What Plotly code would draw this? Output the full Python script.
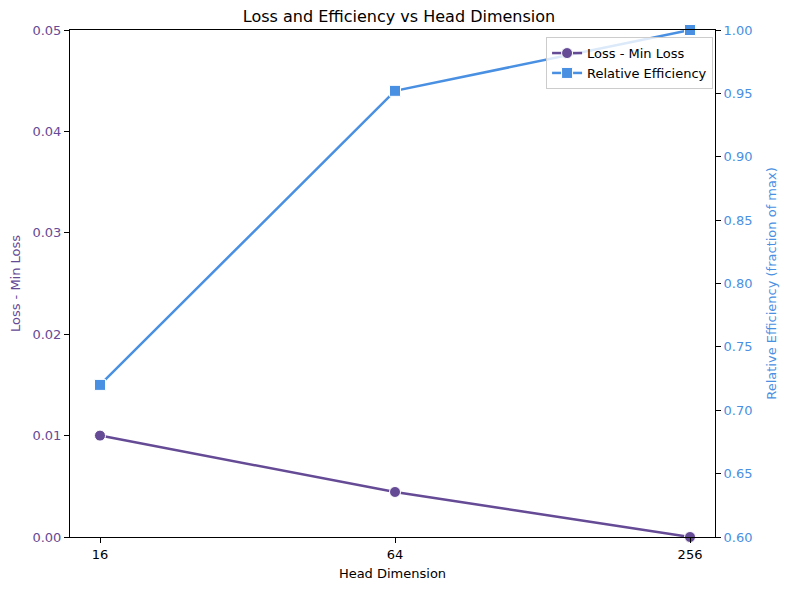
import plotly.graph_objects as go

head_dims = [16, 64, 256]
loss_minus_min = [0.0100, 0.00444, 0.0]
rel_efficiency = [0.720, 0.952, 1.000]

purple = "#654a96"
blue = "#4a90e2"
font = "DejaVu Sans"

W, H = 782, 582

fig = go.Figure()
fig.add_trace(go.Scatter(
    x=head_dims, y=loss_minus_min, name="Loss - Min Loss", mode="lines+markers",
    line=dict(color=purple, width=2.5),
    marker=dict(symbol="circle", size=11, color=purple, line=dict(color="white", width=1)),
    yaxis="y", cliponaxis=False,
))
fig.add_trace(go.Scatter(
    x=head_dims, y=rel_efficiency, name="Relative Efficiency", mode="lines+markers",
    line=dict(color=blue, width=2.5),
    marker=dict(symbol="square", size=11, color=blue, line=dict(color="white", width=1)),
    yaxis="y2", cliponaxis=False,
))

fig.update_layout(
    width=W, height=H,
    margin=dict(l=62, r=75, t=22, b=53),
    paper_bgcolor="white", plot_bgcolor="white",
    font=dict(family=font, size=13, color="black"),
    title=dict(text="Loss and Efficiency vs Head Dimension", x=0.5, xanchor="center",
               y=1 - 8 / H, yanchor="middle", font=dict(size=16, color="black")),
    xaxis=dict(
        type="log", range=[1.1429, 2.4592],
        tickvals=head_dims, ticktext=[str(v) for v in head_dims],
        ticks="outside", ticklen=5, tickcolor="black",
        showline=True, linecolor="black", linewidth=1, mirror=True,
        showgrid=False, zeroline=False, automargin=False,
        title=dict(text="Head Dimension", font=dict(size=13), standoff=8),
        tickfont=dict(size=13),
    ),
    yaxis=dict(
        range=[0, 0.05], tickvals=[0, 0.01, 0.02, 0.03, 0.04, 0.05], tickformat=".2f",
        ticks="outside", ticklen=5, tickcolor="black",
        showline=True, linecolor="black", linewidth=1,
        showgrid=False, zeroline=False, automargin=False,
        tickfont=dict(size=13, color=purple),
        title=dict(text="Loss - Min Loss", font=dict(size=13, color=purple), standoff=8),
    ),
    yaxis2=dict(
        range=[0.6, 1.0], tickvals=[0.6, 0.65, 0.7, 0.75, 0.8, 0.85, 0.9, 0.95, 1.0],
        tickformat=".2f", overlaying="y", side="right",
        ticks="outside", ticklen=5, tickcolor="black",
        showline=True, linecolor="black", linewidth=1,
        showgrid=False, zeroline=False, automargin=False,
        tickfont=dict(size=13, color=blue),
        title=dict(text="Relative Efficiency (fraction of max)", font=dict(size=13, color=blue), standoff=15),
    ),
    legend=dict(
        x=0.997, y=0.986, xanchor="right", yanchor="top",
        bgcolor="rgba(255,255,255,0.8)", bordercolor="#cccccc", borderwidth=1,
        font=dict(size=13), tracegroupgap=0, itemwidth=30,
    ),
    showlegend=True,
)

fig.write_html("out.html")
